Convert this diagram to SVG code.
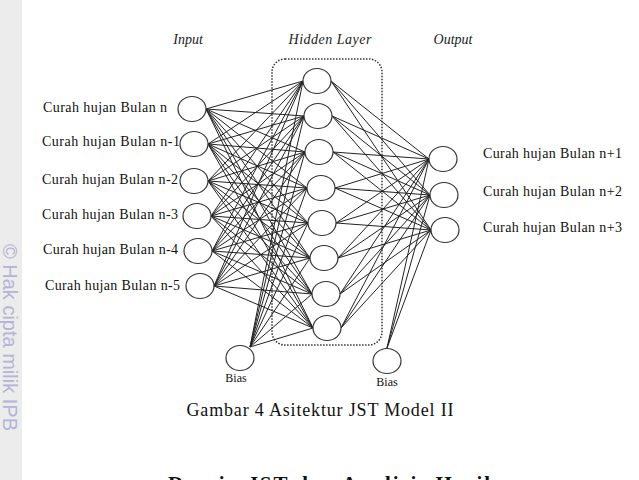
<svg xmlns="http://www.w3.org/2000/svg" width="639" height="480" viewBox="0 0 639 480">
<style>
.lbl{font-family:"Liberation Serif","Times New Roman",serif;font-size:14px;fill:#111}
.ttl{font-family:"Liberation Serif","Times New Roman",serif;font-size:14px;font-style:italic;fill:#222}
.cap{font-family:"Liberation Serif","Times New Roman",serif;font-size:18px;fill:#111}
.bias{font-family:"Liberation Serif","Times New Roman",serif;font-size:12px;fill:#111}
.node{fill:#fff;stroke:#333;stroke-width:1.2}
.conn path{fill:none;stroke:#222;stroke-width:1}
</style>
<rect x="0" y="0" width="639" height="480" fill="#fff"/>
<rect x="0" y="0" width="22" height="480" fill="#ececec"/>
<text transform="translate(3,244) rotate(90)" font-family="Liberation Sans,Arial,sans-serif" font-size="20" fill="#b4b4d6">© Hak cipta milik IPB</text>

<text class="ttl" x="188" y="44" text-anchor="middle">Input</text>
<text class="ttl" x="330" y="44" text-anchor="middle" textLength="83">Hidden Layer</text>
<text class="ttl" x="453" y="44" text-anchor="middle">Output</text>

<rect x="272" y="59" width="110" height="286" rx="13" fill="none" stroke="#333" stroke-width="1.5" stroke-dasharray="1.5 1.5"/>

<g id="connectors" class="conn">
<path d="M206 109L303 81M206 109L304 116M206 109L305 152M206 109L307 188M206 109L308 223M206 109L310 258M206 109L312 294M206 109L313 328"/>
<path d="M208 144L303 81M208 144L304 116M208 144L305 152M208 144L307 188M208 144L308 223M208 144L310 258M208 144L312 294M208 144L313 328"/>
<path d="M208 181L303 81M208 181L304 116M208 181L305 152M208 181L307 188M208 181L308 223M208 181L310 258M208 181L312 294M208 181L313 328"/>
<path d="M211 216L303 81M211 216L304 116M211 216L305 152M211 216L307 188M211 216L308 223M211 216L310 258M211 216L312 294M211 216L313 328"/>
<path d="M212 251L303 81M212 251L304 116M212 251L305 152M212 251L307 188M212 251L308 223M212 251L310 258M212 251L312 294M212 251L313 328"/>
<path d="M214 286L303 81M214 286L304 116M214 286L305 152M214 286L307 188M214 286L308 223M214 286L310 258M214 286L312 294M214 286L313 328"/>
<path d="M250 347L303 81M250 347L304 116M250 347L305 152M250 347L307 188M250 347L308 223M250 347L310 258M250 347L312 294M250 347L313 328"/>
<path d="M331 81L429 159M331 81L430 195M331 81L431 230"/>
<path d="M332 116L429 159M332 116L430 195M332 116L431 230"/>
<path d="M333 152L429 159M333 152L430 195M333 152L431 230"/>
<path d="M335 188L429 159M335 188L430 195M335 188L431 230"/>
<path d="M336 223L429 159M336 223L430 195M336 223L431 230"/>
<path d="M338 258L429 159M338 258L430 195M338 258L431 230"/>
<path d="M340 294L429 159M340 294L430 195M340 294L431 230"/>
<path d="M341 328L429 159M341 328L430 195M341 328L431 230"/>
<path d="M387 348L429 159M387 348L430 195M387 348L431 230"/>
</g>

<g id="in1"><ellipse class="node" cx="192" cy="109" rx="14" ry="12.5"/><text class="lbl" x="43" y="112" textLength="124">Curah hujan Bulan n</text></g>
<g id="in2"><ellipse class="node" cx="194" cy="144" rx="14" ry="12.5"/><text class="lbl" x="42" y="146" textLength="138">Curah hujan Bulan n-1</text></g>
<g id="in3"><ellipse class="node" cx="194" cy="181" rx="14" ry="12.5"/><text class="lbl" x="42" y="184" textLength="136">Curah hujan Bulan n-2</text></g>
<g id="in4"><ellipse class="node" cx="197" cy="216" rx="14" ry="12.5"/><text class="lbl" x="42" y="219" textLength="136">Curah hujan Bulan n-3</text></g>
<g id="in5"><ellipse class="node" cx="198" cy="251" rx="14" ry="12.5"/><text class="lbl" x="43" y="254" textLength="135">Curah hujan Bulan n-4</text></g>
<g id="in6"><ellipse class="node" cx="200" cy="286" rx="14" ry="12.5"/><text class="lbl" x="45" y="290" textLength="135">Curah hujan Bulan n-5</text></g>

<g id="h1"><ellipse class="node" cx="317" cy="81" rx="14" ry="12.5"/></g>
<g id="h2"><ellipse class="node" cx="318" cy="116" rx="14" ry="12.5"/></g>
<g id="h3"><ellipse class="node" cx="319" cy="152" rx="14" ry="12.5"/></g>
<g id="h4"><ellipse class="node" cx="321" cy="188" rx="14" ry="12.5"/></g>
<g id="h5"><ellipse class="node" cx="322" cy="223" rx="14" ry="12.5"/></g>
<g id="h6"><ellipse class="node" cx="324" cy="258" rx="14" ry="12.5"/></g>
<g id="h7"><ellipse class="node" cx="326" cy="294" rx="14" ry="12.5"/></g>
<g id="h8"><ellipse class="node" cx="327" cy="328" rx="14" ry="12.5"/></g>

<g id="out1"><ellipse class="node" cx="443" cy="159" rx="14" ry="12.5"/><text class="lbl" x="483" y="158" textLength="139">Curah hujan Bulan n+1</text></g>
<g id="out2"><ellipse class="node" cx="444" cy="195" rx="14" ry="12.5"/><text class="lbl" x="483" y="196" textLength="139">Curah hujan Bulan n+2</text></g>
<g id="out3"><ellipse class="node" cx="445" cy="230" rx="14" ry="12.5"/><text class="lbl" x="483" y="232" textLength="139">Curah hujan Bulan n+3</text></g>

<g id="bias1"><ellipse class="node" cx="240" cy="358" rx="14" ry="12.5"/><text class="bias" x="236" y="382" text-anchor="middle">Bias</text></g>
<g id="bias2"><ellipse class="node" cx="387" cy="361" rx="14" ry="12.5"/><text class="bias" x="387" y="386" text-anchor="middle">Bias</text></g>

<text class="cap" x="320" y="416" text-anchor="middle" textLength="267">Gambar 4 Asitektur JST Model II</text>
<text x="168" y="491" font-family="Liberation Serif,Times New Roman,serif" font-size="21" font-weight="bold" fill="#111" textLength="322">Desain JST dan Analisis Hasil</text>
</svg>
